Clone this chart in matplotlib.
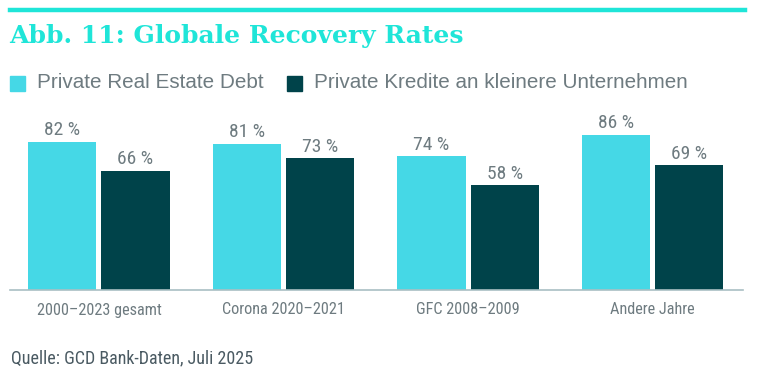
import matplotlib
matplotlib.use("Agg")
import matplotlib.pyplot as plt
from matplotlib import font_manager
from matplotlib.patches import Rectangle
from matplotlib.lines import Line2D

categories = ["2000–2023 gesamt", "Corona 2020–2021", "GFC 2008–2009", "Andere Jahre"]
series_names = ["Private Real Estate Debt", "Private Kredite an kleinere Unternehmen"]
real_estate = [82, 81, 74, 86]
kredite = [66, 73, 58, 69]

C_CYAN = "#45d8e6"
C_DARK = "#00434a"
C_TITLE = "#1fe5d8"
C_TEXT = "#6e7b80"

fonts = font_manager.fontManager.ttflist
names = {f.name for f in fonts}
NARROW = dict(family=["DejaVu Sans"], stretch="condensed")
for cand in ["Roboto Condensed", "Open Sans Condensed", "Liberation Sans Narrow", "Noto Sans Condensed"]:
    if cand in names:
        NARROW = dict(family=[cand, "DejaVu Sans"])
        break
else:
    for f in fonts:
        if f.name in ("Roboto", "Open Sans", "Noto Sans", "Inter") and f.stretch in ("condensed", 75, "semi-condensed"):
            NARROW = dict(family=[f.name, "DejaVu Sans"], stretch="condensed")
            break
SANS = ["Liberation Sans", "DejaVu Sans"]

W, H = 779, 391
fig = plt.figure(figsize=(W / 100, H / 100), dpi=100)

def fx(px):
    return px / W

def fy(py):
    return 1 - py / H

fig.add_artist(Line2D([fx(10), fx(745)], [fy(10), fy(10)], color=C_TITLE, lw=3.2))
fig.text(fx(9), fy(36.5), "Abb. 11: Globale Recovery Rates", color=C_TITLE,
         fontsize=18, fontweight="bold", family=["DejaVu Serif"], va="center", ha="left")

fig.add_artist(Rectangle((fx(10), fy(90.5)), fx(15), 15 / H, color=C_CYAN, transform=fig.transFigure))
fig.text(fx(37), fy(83), series_names[0], color=C_TEXT, fontsize=14.9,
         family=SANS, va="center", ha="left")
fig.add_artist(Rectangle((fx(287), fy(90.5)), fx(15), 15 / H, color=C_DARK, transform=fig.transFigure))
fig.text(fx(314), fy(83), series_names[1], color=C_TEXT, fontsize=14.9,
         family=SANS, va="center", ha="left")

ax = fig.add_axes([fx(10), fy(290), fx(743) - fx(10), fy(109.5) - fy(290)])
x = list(range(len(categories)))
w = 0.369
off = 0.198
b1 = ax.bar([i - off for i in x], real_estate, width=w, color=C_CYAN)
b2 = ax.bar([i + off for i in x], kredite, width=w, color=C_DARK)
for bars, vals in ((b1, real_estate), (b2, kredite)):
    for b, v in zip(bars, vals):
        ax.text(b.get_x() + b.get_width() / 2, v + 1.4, f"{v} %", ha="center", va="bottom",
                color=C_TEXT, fontsize=14, **NARROW)
ax.set_xlim(-0.482, 3.49)
ax.set_ylim(0, 100)
ax.set_xticks(x)
ax.set_xticklabels(categories, fontsize=11.7, color=C_TEXT, **NARROW)
ax.tick_params(axis="x", length=0, pad=9)
ax.set_yticks([])
for s in ("top", "right", "left"):
    ax.spines[s].set_visible(False)
ax.spines["bottom"].set_color("#a9bfc3")
ax.spines["bottom"].set_linewidth(1.2)
ax.patch.set_alpha(0)

fig.text(fx(11), fy(358), "Quelle: GCD Bank-Daten, Juli 2025", color="#4a5a62",
         fontsize=13, va="center", ha="left", **NARROW)

fig.savefig("out.png", dpi=100)
